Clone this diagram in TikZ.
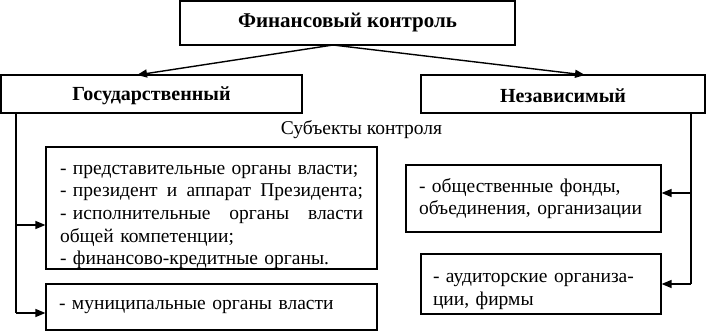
\documentclass[tikz,border=0pt]{standalone}
\usepackage{fontspec}
\setmainfont{Liberation Serif}
\usetikzlibrary{arrows.meta,calc}
\begin{document}
\begin{tikzpicture}[x=1pt,y=-1pt,
  box/.style={draw, line width=1.2pt, inner sep=0pt, align=center},
  head/.style={box, font=\fontsize{20}{24}\selectfont\bfseries},
  body/.style={font=\fontsize{19.5}{22.6}\selectfont},
  arr/.style={line width=1.4pt, -{Triangle[length=10pt,width=8pt]}},
  ln/.style={line width=1.2pt}]
\useasboundingbox (0,0) rectangle (706,331);
\node[head, minimum width=335pt, minimum height=44pt, font=\fontsize{21}{25}\selectfont\bfseries] (top) at (347.5,23) {Финансовый контроль};
\node[head, minimum width=301pt, minimum height=38pt] (gos) at (151.5,94) {\rule{0pt}{18pt}Государственный};
\node[head, minimum width=284pt, minimum height=38pt] (nez) at (563,94) {\rule{0pt}{18pt}Независимый};
\node[body] (subj) at (361.5,130) {Субъекты контроля};
\node[box, body, minimum width=331pt, minimum height=122pt, text width=303pt, align=left] (lb1) at (211.5,208)
  {\rule{0pt}{27pt}- представительные органы власти;\\
   \makebox[303pt][l]{- президент\hfill и\hfill аппарат\hfill Президента;}\\
   \makebox[303pt][l]{- исполнительные\hfill органы\hfill власти}\\
   общей компетенции;\\
   - финансово-кредитные органы.};
\node[box, body, minimum width=331pt, minimum height=46pt, text width=305pt, align=left] (lb2) at (211.5,307)
  {- муниципальные органы власти};
\node[box, body, minimum width=255pt, minimum height=67pt, text width=229pt, align=left] (rb1) at (533.5,198.5)
  {- общественные фонды,\\объединения, организации};
\node[box, body, minimum width=240pt, minimum height=60pt, text width=216pt, align=left] (rb2) at (541,284)
  {\rule{0pt}{24pt}- аудиторские организа-\\ции, фирмы};
% connectors from top
\coordinate (apex) at (333,45);
\coordinate (tipL) at (137,75);
\coordinate (tipR) at (585,75);
\draw[arr] (apex) -- (tipL);
\draw[arr] (apex) -- (tipR);
% left branch
\coordinate (gl) at (16,113);
\coordinate (gl2) at (16,313);
\coordinate (gl1) at (16,225);
\draw[ln] (gl) -- (gl2);
\draw[arr] (gl1) -- (lb1.west |- gl1);
\draw[arr] (gl2) -- (lb2.west |- gl2);
% right branch
\coordinate (nr) at (691,113);
\coordinate (nr1) at (691,193);
\coordinate (nr2) at (691,284);
\draw[ln] (nr) -- (nr2);
\draw[arr] (nr1) -- (rb1.east |- nr1);
\draw[arr] (nr2) -- (rb2.east |- nr2);
\end{tikzpicture}
\end{document}
